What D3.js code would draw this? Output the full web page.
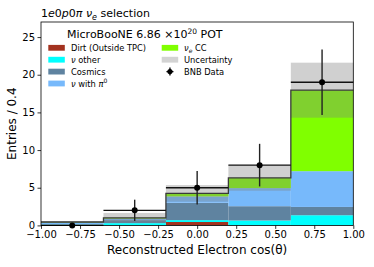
<!DOCTYPE html>
<html><head><meta charset="utf-8">
<script src="https://cdn.jsdelivr.net/npm/d3@7"></script>
<style>body{margin:0;background:#fff}svg{display:block;font-family:"DejaVu Sans",sans-serif}</style>
</head><body><svg id="c" width="374" height="267"></svg>
<script>
const binEdges = [-1.0, -0.6, -0.2, 0.2, 0.6, 1.0];
const dirt     = [0.0, 0.0, 0.45, 0.0, 0.0];
const nuOther  = [0.10, 0.30, 0.25, 0.65, 1.35];
const cosmics  = [0.08, 0.40, 2.30, 1.90, 1.10];
const nuPi0    = [0.20, 0.20, 0.85, 2.40, 4.75];
const nueCC    = [0.07, 0.10, 0.40, 1.35, 10.75];
const uncert   = [0.12, 0.65, 1.10, 1.70, 3.65];
const dataVals = [0, 2, 5, 8, 19];
const xTicks = [-1.0, -0.75, -0.5, -0.25, 0.0, 0.25, 0.5, 0.75, 1.0];
const yTicks = [0, 5, 10, 15, 20, 25];

const W = 374, H = 267;
const m = {l: 41, r: 20.7, t: 22, b: 41.6};
const svg = d3.select("#c");
const x = d3.scaleLinear().domain([-1, 1]).range([m.l, W - m.r]);
const y = d3.scaleLinear().domain([0, 27]).range([H - m.b, m.t]);

const series = [
  {name: "dirt", vals: dirt, color: "#a3321f"},
  {name: "other", vals: nuOther, color: "#00ffff"},
  {name: "cos", vals: cosmics, color: "#5f83a0"},
  {name: "pi0", vals: nuPi0, color: "#77b9fb"},
  {name: "nue", vals: nueCC, color: "#80ff00"}
];
const bins = d3.range(5).map(i => {
  const o = {i: i};
  series.forEach(s => o[s.name] = s.vals[i]);
  return o;
});
const stack = d3.stack().keys(series.map(s => s.name))(bins);
const g = svg.append("g");
stack.forEach((layer, k) => {
  g.selectAll(null).data(layer).enter().append("rect")
    .attr("x", d => x(binEdges[d.data.i]))
    .attr("width", d => x(binEdges[d.data.i + 1]) - x(binEdges[d.data.i]))
    .attr("y", d => y(d[1]))
    .attr("height", d => Math.max(0, y(d[0]) - y(d[1])))
    .attr("fill", series[k].color);
});
const totals = d3.range(5).map(i => series.reduce((a, s) => a + s.vals[i], 0));
// uncertainty band
g.selectAll(null).data(totals).enter().append("rect")
  .attr("x", (d, i) => x(binEdges[i]))
  .attr("width", (d, i) => x(binEdges[i + 1]) - x(binEdges[i]))
  .attr("y", (d, i) => y(d + uncert[i]))
  .attr("height", (d, i) => y(Math.max(0, d - uncert[i])) - y(d + uncert[i]))
  .attr("fill", "#7f7f7f").attr("fill-opacity", 0.37);
// total step outline
const stepPts = [];
totals.forEach((t, i) => { stepPts.push([binEdges[i], t]); stepPts.push([binEdges[i + 1], t]); });
g.append("path")
  .attr("d", d3.line().x(d => x(d[0])).y(d => y(d[1]))(stepPts))
  .attr("fill", "none").attr("stroke", "#3a3a3a").attr("stroke-width", 1.3);

// data
const dg = svg.append("g");
dataVals.forEach((v, i) => {
  const cx = x((binEdges[i] + binEdges[i + 1]) / 2);
  dg.append("line").attr("x1", x(binEdges[i])).attr("x2", x(binEdges[i + 1]))
    .attr("y1", y(v)).attr("y2", y(v)).attr("stroke", "#111").attr("stroke-width", 1.4);
  const e = Math.sqrt(v);
  dg.append("line").attr("x1", cx).attr("x2", cx)
    .attr("y1", y(v - e)).attr("y2", y(v + e)).attr("stroke", "#222").attr("stroke-width", 1.4);
  dg.append("circle").attr("cx", cx).attr("cy", y(v)).attr("r", 3).attr("fill", "#000");
});

// axes
const xa = svg.append("g").attr("transform", `translate(0,${H - m.b})`)
  .call(d3.axisBottom(x).tickValues(xTicks).tickFormat(d3.format(".2f")).tickSizeOuter(0).tickSize(3.5).tickPadding(2));
const ya = svg.append("g").attr("transform", `translate(${m.l},0)`)
  .call(d3.axisLeft(y).tickValues(yTicks).tickSizeOuter(0).tickSize(3.5).tickPadding(2.5));
[xa, ya].forEach(a => {
  a.select(".domain").remove();
  a.selectAll("text").attr("font-size", 10).attr("font-family", "DejaVu Sans").attr("fill", "#000");
  a.selectAll("line").attr("stroke", "#000").attr("stroke-width", 0.8);
});
svg.append("rect").attr("x", m.l).attr("y", m.t).attr("width", W - m.l - m.r).attr("height", H - m.t - m.b)
  .attr("fill", "none").attr("stroke", "#000").attr("stroke-width", 0.8);

// labels
svg.append("text").attr("x", (m.l + W - m.r) / 2).attr("y", 254).attr("text-anchor", "middle")
  .attr("font-size", 12).text("Reconstructed Electron cos(θ)");
svg.append("text").attr("transform", `translate(16,${(m.t + H - m.b) / 2}) rotate(-90)`)
  .attr("text-anchor", "middle").attr("font-size", 12).text("Entries / 0.4");

const title = svg.append("text").attr("x", 41).attr("y", 17).attr("font-size", 11);
title.append("tspan").text("1");
title.append("tspan").attr("font-style", "italic").text("e");
title.append("tspan").text("0");
title.append("tspan").attr("font-style", "italic").text("p");
title.append("tspan").text("0");
title.append("tspan").attr("font-style", "italic").text("π ν");
title.append("tspan").attr("font-style", "italic").attr("font-size", 8).attr("dy", 2.5).text("e");
title.append("tspan").attr("dy", -2.5).text(" selection");

// legend
const lt = svg.append("text").attr("x", 67).attr("y", 37.5).attr("font-size", 11);
lt.append("tspan").text("MicroBooNE 6.86 ×10");
lt.append("tspan").attr("font-size", 7.5).attr("dy", -4).text("20");
lt.append("tspan").attr("dy", 4).text(" POT");

const legItems = [
  {col: 0, row: 0, color: "#a3321f", parts: [["Dirt (Outside TPC)"]]},
  {col: 0, row: 1, color: "#00ffff", parts: [["ν", "it"], [" other"]]},
  {col: 0, row: 2, color: "#5f83a0", parts: [["Cosmics"]]},
  {col: 0, row: 3, color: "#77b9fb", parts: [["ν", "it"], [" with "], ["π", "it"], ["0", "sup"]]},
  {col: 1, row: 0, color: "#80ff00", parts: [["ν", "it"], ["e", "sub"], [" CC"]]},
  {col: 1, row: 1, color: "#d3d3d3", parts: [["Uncertainty"]]},
  {col: 1, row: 2, color: null, parts: [["BNB Data"]]}
];
const colPatchX = [48.3, 161.7], colTextX = [71, 184];
legItems.forEach(it => {
  const cy = 47.8 + it.row * 11.9;
  if (it.color) {
    svg.append("rect").attr("x", colPatchX[it.col]).attr("y", cy - 2.9).attr("width", 16.5).attr("height", 5.8)
      .attr("fill", it.color);
  } else {
    const cx = colPatchX[it.col] + 8.25;
    svg.append("line").attr("x1", cx - 3.5).attr("x2", cx + 3.5).attr("y1", cy).attr("y2", cy).attr("stroke", "#000").attr("stroke-width", 1.3);
    svg.append("line").attr("x1", cx).attr("x2", cx).attr("y1", cy - 4).attr("y2", cy + 4).attr("stroke", "#000").attr("stroke-width", 1.3);
    svg.append("circle").attr("cx", cx).attr("cy", cy).attr("r", 2.6).attr("fill", "#000");
  }
  const t = svg.append("text").attr("x", colTextX[it.col]).attr("y", cy + 3).attr("font-size", 8.3);
  let shift = 0;
  it.parts.forEach(p => {
    const ts = t.append("tspan").text(p[0]);
    let dy = 0;
    if (p[1] === "it") ts.attr("font-style", "italic");
    if (p[1] === "sub") { ts.attr("font-size", 6).attr("font-style", "italic"); dy = 2 - shift; }
    else if (p[1] === "sup") { ts.attr("font-size", 6); dy = -3.5 - shift; }
    else dy = -shift;
    if (dy !== 0) ts.attr("dy", dy);
    shift += dy;
  });
});
</script></body></html>
